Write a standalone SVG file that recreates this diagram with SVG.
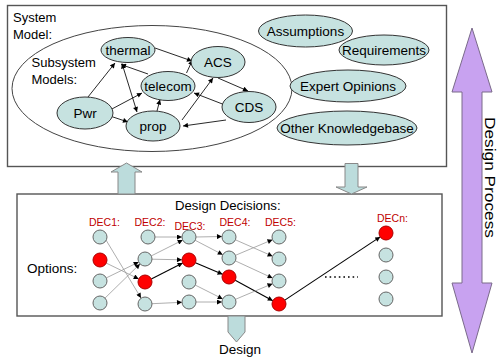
<svg xmlns="http://www.w3.org/2000/svg" width="500" height="359" viewBox="0 0 500 359">
<style>
.box{fill:#fff;stroke:#555;stroke-width:1.4}
.node{fill:#c6e2e0;stroke:#333;stroke-width:1}
.t{font-family:'Liberation Sans',Arial,sans-serif;fill:#000}
.lbl{font-size:13.5px;text-anchor:middle}
.dec{font-family:'Liberation Sans',Arial,sans-serif;font-size:10.5px;fill:#c00000}
.c{fill:#c6e2e0;stroke:#666;stroke-width:1}
.r{fill:#ff0000;stroke:#a00;stroke-width:1}
.a{stroke:#111;stroke-width:0.9;fill:none;marker-end:url(#ah)}
.g{stroke:#999;stroke-width:0.8;fill:none;marker-end:url(#ah)}
.k{stroke:#000;stroke-width:1.1;fill:none;marker-end:url(#ah)}
.blk{fill:#bcdcdc;stroke:#888;stroke-width:1}
</style>
<defs>
<marker id="ah" viewBox="0 0 10 10" refX="10" refY="5" markerWidth="6" markerHeight="5" markerUnits="userSpaceOnUse" orient="auto-start-reverse">
<path d="M0,0L10,5L0,10z" fill="#000"/>
</marker>
</defs>

<rect class="box" x="7.5" y="5.5" width="439" height="161"/>
<rect class="box" x="17" y="194" width="425" height="122"/>

<g id="system-model-label">
<text class="t" x="13" y="22" font-size="13">System</text>
<text class="t" x="13" y="38.5" font-size="13">Model:</text>
</g>
<g id="subsystem-models">
<ellipse cx="152" cy="88.5" rx="140" ry="63" fill="none" stroke="#444" stroke-width="1"/>
<text class="t" x="31.5" y="66.5" font-size="13">Subsystem</text>
<text class="t" x="31.5" y="83.5" font-size="13">Models:</text>
</g>

<g id="connectors-top">
<line class="a" x1="88" y1="97" x2="115" y2="63"/>
<line class="a" x1="110" y1="110" x2="142" y2="93"/>
<line class="a" x1="110" y1="116" x2="128" y2="122"/>
<line class="a" x1="122" y1="63.5" x2="137" y2="112" style="marker-start:url(#ah)"/>
<line class="a" x1="148" y1="74" x2="121" y2="64.5"/>
<line class="a" x1="157" y1="111" x2="160" y2="99.5"/>
<line class="a" x1="155" y1="48" x2="192" y2="61"/>
<line class="a" x1="186.5" y1="73" x2="192.5" y2="60"/>
<line class="a" x1="182" y1="120" x2="213" y2="78"/>
<line class="a" x1="218" y1="78" x2="248" y2="91"/>
<line class="a" x1="225" y1="105" x2="194" y2="93"/>
<line class="a" x1="226" y1="120" x2="183" y2="126"/>
</g>

<g id="thermal"><ellipse class="node" cx="128" cy="50" rx="27" ry="12.5"/><text class="t lbl" x="128" y="54.5">thermal</text></g>
<g id="ACS"><ellipse class="node" cx="218" cy="62" rx="27" ry="15.5"/><text class="t lbl" x="218" y="67">ACS</text></g>
<g id="telecom"><ellipse class="node" cx="168" cy="86" rx="27" ry="14.5"/><text class="t lbl" x="168" y="90.5">telecom</text></g>
<g id="Pwr"><ellipse class="node" cx="85" cy="113" rx="28" ry="16"/><text class="t lbl" x="85" y="118">Pwr</text></g>
<g id="prop"><ellipse class="node" cx="153" cy="126" rx="27" ry="15"/><text class="t lbl" x="153" y="130.5">prop</text></g>
<g id="CDS"><ellipse class="node" cx="249" cy="107" rx="27" ry="15.5"/><text class="t lbl" x="249" y="112">CDS</text></g>

<g id="assumptions"><ellipse class="node" cx="305.5" cy="31" rx="47" ry="16"/><text class="t lbl" x="305.5" y="36">Assumptions</text></g>
<g id="requirements"><ellipse class="node" cx="384" cy="50" rx="45" ry="15"/><text class="t lbl" x="384" y="55">Requirements</text></g>
<g id="expert-opinions"><ellipse class="node" cx="348" cy="86" rx="58" ry="16"/><text class="t lbl" x="348" y="91">Expert Opinions</text></g>
<g id="other-knowledgebase"><ellipse class="node" cx="347" cy="128" rx="70" ry="17"/><text class="t lbl" x="347" y="133">Other Knowledgebase</text></g>

<g id="flow-arrows">
<polygon class="blk" points="118,194 118,172 111,172 126.5,163 142,172 135,172 135,194"/>
<polygon class="blk" points="345,163.5 358,163.5 358,187 367,187 351.5,194 336,187 345,187"/>
<polygon class="blk" points="228,316 245,316 245,332 236.5,342 228,332"/>
</g>
<g id="design-label"><text class="t" x="240" y="353.5" font-size="13.5" text-anchor="middle">Design</text></g>

<g id="design-process">
<polygon points="472,28 492,92 482,92 482,283 492,283 472,353 452,283 462,283 462,92 452,92" fill="#c8a2f0" stroke="#7a6a8a" stroke-width="1"/>
<text class="t" transform="translate(485,177.5) rotate(90)" font-size="14" text-anchor="middle" textLength="121" lengthAdjust="spacingAndGlyphs">Design Process</text>
</g>

<g id="decisions-labels">
<text class="t" x="175" y="210" font-size="13.2">Design Decisions:</text>
<text class="t" x="27" y="273" font-size="13.5">Options:</text>
<text class="dec" x="89" y="225.5">DEC1:</text>
<text class="dec" x="134.5" y="225.5">DEC2:</text>
<text class="dec" x="174.5" y="229.5">DEC3:</text>
<text class="dec" x="219.5" y="225.5">DEC4:</text>
<text class="dec" x="265" y="225.5">DEC5:</text>
<text class="dec" x="377" y="222">DECn:</text>
</g>

<g id="connectors-options">
<line class="g" x1="106" y1="240" x2="141" y2="298"/>
<line class="g" x1="106.3" y1="263.1" x2="138.7" y2="278.9"/>
<line class="g" x1="106.3" y1="277.9" x2="138.7" y2="262.1"/>
<line class="g" x1="105" y1="298.1" x2="140" y2="263.9"/>
<line class="g" x1="155" y1="237" x2="182" y2="237"/>
<line class="g" x1="151.3" y1="255.9" x2="182.7" y2="240.1"/>
<line class="g" x1="152" y1="259.2" x2="182" y2="259.8"/>
<line class="k" x1="151.3" y1="278.9" x2="182.7" y2="263.1"/>
<line class="g" x1="152" y1="303.7" x2="182" y2="302.3"/>
<line class="g" x1="196" y1="237" x2="222" y2="236.5"/>
<line class="g" x1="195.2" y1="240.3" x2="222.8" y2="254.7"/>
<line class="k" x1="195.4" y1="262.7" x2="222.6" y2="274.3"/>
<line class="g" x1="195.3" y1="285.1" x2="222.7" y2="298.9"/>
<line class="g" x1="196" y1="302" x2="222" y2="302"/>
<line class="g" x1="235.4" y1="239.8" x2="272.6" y2="256.2"/>
<line class="g" x1="235.5" y1="255.3" x2="272.5" y2="239.7"/>
<line class="g" x1="235.4" y1="260.9" x2="272.6" y2="278.1"/>
<line class="k" x1="235.2" y1="280.3" x2="272.8" y2="300.7"/>
<line class="g" x1="235.5" y1="299.3" x2="272.5" y2="283.7"/>
<line class="k" x1="284.8" y1="300.1" x2="380.2" y2="236.9"/>
<line x1="325" y1="277" x2="358" y2="277" stroke="#000" stroke-width="1.6" stroke-dasharray="1.6,3"/>
</g>

<g id="dec1"><circle class="c" cx="100" cy="237" r="7"/><circle class="r" cx="100" cy="260" r="7"/><circle class="c" cx="100" cy="281" r="7"/><circle class="c" cx="100" cy="303" r="7"/></g>
<g id="dec2"><circle class="c" cx="148" cy="237" r="7"/><circle class="c" cx="145" cy="259" r="7"/><circle class="r" cx="145" cy="282" r="7"/><circle class="c" cx="145" cy="304" r="7"/></g>
<g id="dec3"><circle class="c" cx="189" cy="237" r="7"/><circle class="r" cx="189" cy="260" r="7"/><circle class="c" cx="189" cy="282" r="7"/><circle class="c" cx="189" cy="302" r="7"/></g>
<g id="dec4"><circle class="c" cx="229" cy="237" r="7"/><circle class="c" cx="229" cy="258" r="7"/><circle class="r" cx="229" cy="277" r="7"/><circle class="c" cx="229" cy="302" r="7"/></g>
<g id="dec5"><circle class="c" cx="279" cy="237" r="7"/><circle class="c" cx="279" cy="259" r="7"/><circle class="c" cx="279" cy="281" r="7"/><circle class="r" cx="279" cy="304" r="7"/></g>
<g id="decn"><circle class="r" cx="386" cy="233" r="7"/><circle class="c" cx="386" cy="255" r="7"/><circle class="c" cx="386" cy="277" r="7"/><circle class="c" cx="386" cy="299" r="7"/></g>
</svg>
